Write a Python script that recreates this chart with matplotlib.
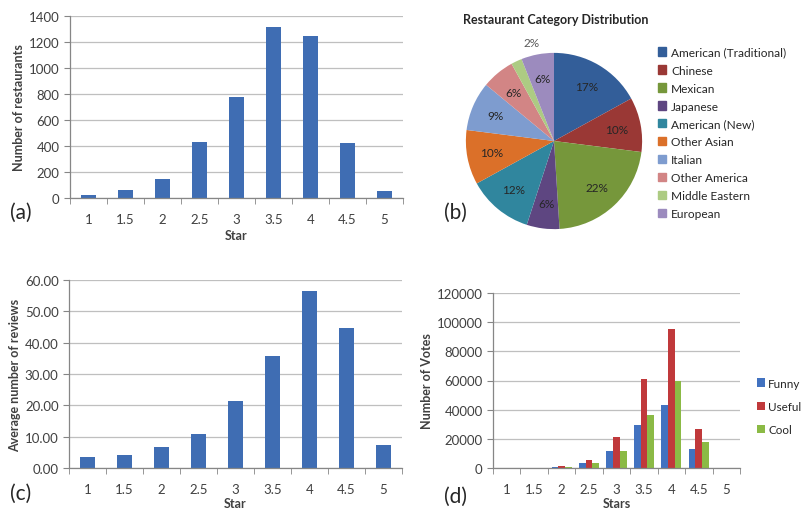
import numpy as np
import matplotlib.pyplot as plt
from matplotlib.patches import Patch

plt.rcParams['font.family'] = ['Lato', 'DejaVu Sans']

stars = ['1', '1.5', '2', '2.5', '3', '3.5', '4', '4.5', '5']
restaurants = [20, 65, 150, 430, 780, 1315, 1250, 420, 55]
avg_reviews = [3.5, 4.2, 6.7, 10.9, 21.4, 35.8, 56.6, 44.7, 7.3]

categories = ['American (Traditional)', 'Chinese', 'Mexican', 'Japanese',
              'American (New)', 'Other Asian', 'Italian', 'Other America',
              'Middle Eastern', 'European']
cat_share = [17, 10, 22, 6, 12, 10, 9, 6, 2, 6]
cat_colors = ['#335E99', '#9A3835', '#76973B', '#5E4681', '#30869E',
              '#DB7029', '#7E9CCF', '#D28585', '#ADCB83', '#9C8BBE']

funny = [0, 0, 500, 3500, 12000, 29500, 43000, 13000, 0]
useful = [0, 0, 1200, 5800, 21000, 61000, 95000, 27000, 0]
cool = [0, 0, 400, 3200, 12000, 36500, 60000, 17500, 0]

W, H = 805, 510
BLUE = '#3F6DB3'
GRID = '#BFBFBF'
TXT = '#404040'
TICK_FS = 9.5
LAB_FS = 9


def px(l, t, r, b):
    return [l / W, 1 - b / H, (r - l) / W, (b - t) / H]


def excel_axes(ax, n):
    ax.set_xlim(-0.5, n - 0.5)
    ax.set_xticks(range(n))
    ax.set_xticklabels(stars)
    ax.set_xticks(np.arange(-0.5, n, 1), minor=True)
    ax.tick_params(axis='x', which='major', length=0, pad=11, labelsize=TICK_FS, colors=TXT)
    ax.tick_params(axis='x', which='minor', length=4, color='#868686')
    ax.tick_params(axis='y', length=4, color='#868686', labelsize=TICK_FS, colors=TXT, direction='out')
    ax.grid(axis='y', color=GRID, lw=0.9)
    ax.set_axisbelow(True)
    for s in ['top', 'right']:
        ax.spines[s].set_visible(False)
    for s in ['left', 'bottom']:
        ax.spines[s].set_color('#868686')
        ax.spines[s].set_linewidth(0.9)


fig = plt.figure(figsize=(W / 100, H / 100), dpi=100)

# (a) restaurants per star
ax = fig.add_axes(px(70, 17, 403, 199))
x = np.arange(len(stars))
ax.bar(x, restaurants, width=0.42, color=BLUE)
excel_axes(ax, len(stars))
ax.set_ylim(0, 1400)
ax.set_yticks(range(0, 1401, 200))
ax.set_xlabel('Star', fontsize=LAB_FS, fontweight='bold', color=TXT, labelpad=3)
ax.set_ylabel('Number of restaurants', fontsize=LAB_FS, fontweight='bold', color=TXT, labelpad=3)
fig.text(10 / W, 1 - 213 / H, '(a)', fontsize=15, va='center', color='#262626')

# (b) category pie
axp = fig.add_axes(px(465, 53, 643, 231))
wedges, texts, autotexts = axp.pie(cat_share, colors=cat_colors, startangle=90,
                                   counterclock=False, autopct='%d%%',
                                   pctdistance=0.72,
                                   textprops={'fontsize': 8.5, 'color': '#262626'})
autotexts[8].set_position((-0.26, 1.12))
autotexts[8].set_color('#595959')
axp.set_xlim(-1.01, 1.01)
axp.set_ylim(-1.01, 1.01)
axp.set_aspect('equal')
fig.text(556 / W, 1 - 20 / H, 'Restaurant Category Distribution', fontsize=9,
         fontweight='bold', ha='center', va='center', color='#262626')
handles = [Patch(color=c) for c in cat_colors]
fig.legend(handles, categories, loc='upper left', bbox_to_anchor=(647 / W, 1 - 37 / H),
           frameon=False, fontsize=8.6, handlelength=0.7, handleheight=0.7,
           handletextpad=0.4, labelspacing=0.58, labelcolor='#262626')
fig.text(444 / W, 1 - 213 / H, '(b)', fontsize=15, va='center', color='#262626')

# (c) average reviews per star
ax = fig.add_axes(px(69, 281, 402, 469))
ax.bar(x, avg_reviews, width=0.4, color=BLUE)
excel_axes(ax, len(stars))
ax.set_ylim(0, 60)
ax.set_yticks(range(0, 61, 10))
ax.set_yticklabels(['%.2f' % v for v in range(0, 61, 10)])
ax.set_xlabel('Star', fontsize=LAB_FS, fontweight='bold', color=TXT, labelpad=1)
ax.set_ylabel('Average number of reviews', fontsize=LAB_FS, fontweight='bold', color=TXT, labelpad=3)
fig.text(10 / W, 1 - 494 / H, '(c)', fontsize=15, va='center', color='#262626')

# (d) votes per star
ax = fig.add_axes(px(493, 294, 740, 469))
bw = 0.245
ax.bar(x - bw, funny, width=bw, color='#4272C0', label='Funny')
ax.bar(x, useful, width=bw, color='#C0393B', label='Useful')
ax.bar(x + bw, cool, width=bw, color='#8BBA45', label='Cool')
excel_axes(ax, len(stars))
ax.set_ylim(0, 120000)
ax.set_yticks(range(0, 120001, 20000))
ax.set_xlabel('Stars', fontsize=LAB_FS, fontweight='bold', color=TXT, labelpad=1)
ax.set_ylabel('Number of Votes', fontsize=LAB_FS, fontweight='bold', color=TXT, labelpad=3)
ax.legend(loc='upper left', bbox_to_anchor=(752 / W, 1 - 374 / H),
          bbox_transform=fig.transFigure, frameon=False, fontsize=8.4,
          handlelength=0.7, handleheight=0.7, handletextpad=0.3,
          labelspacing=1.05, borderaxespad=0, labelcolor='#262626')
fig.text(444 / W, 1 - 497 / H, '(d)', fontsize=15, va='center', color='#262626')

fig.savefig('out.png', dpi=100)
